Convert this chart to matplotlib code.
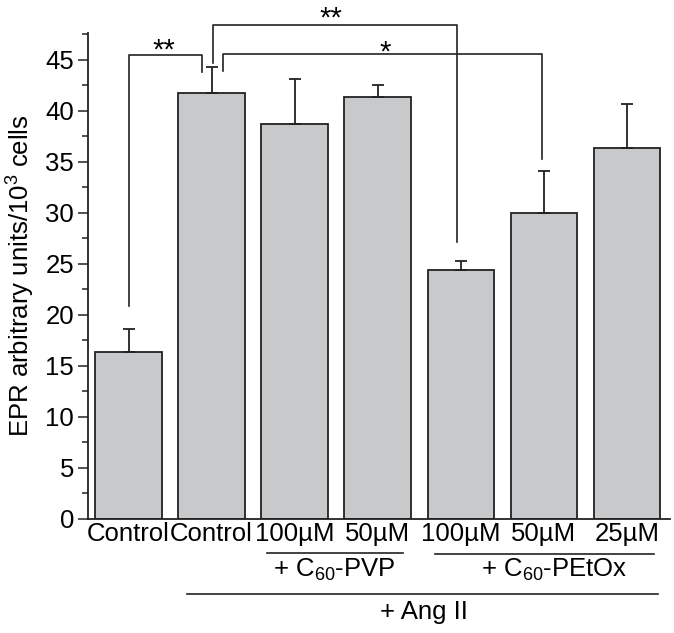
import matplotlib
matplotlib.use("Agg")
import matplotlib.pyplot as plt
import numpy as np

plt.rcParams['font.family'] = ['Liberation Sans', 'DejaVu Sans']
plt.rcParams['mathtext.fontset'] = 'custom'
plt.rcParams['mathtext.rm'] = 'Liberation Sans'
plt.rcParams['mathtext.it'] = 'Liberation Sans:italic'
plt.rcParams['mathtext.bf'] = 'Liberation Sans:bold'

# ---- data ----
categories = ["Control", "Control", "100\u00b5M", "50\u00b5M", "100\u00b5M", "50\u00b5M", "25\u00b5M"]
values = [16.4, 41.7, 38.7, 41.3, 24.4, 30.0, 36.3]
errors = [2.2, 2.6, 4.4, 1.2, 0.9, 4.1, 4.3]
yticks = [0, 5, 10, 15, 20, 25, 30, 35, 40, 45]
ylabel = "EPR arbitrary units/10$^3$ cells"
group_labels = ["+ C$_{60}$-PVP", "+ C$_{60}$-PEtOx", "+ Ang II"]
sig_labels = ["**", "**", "*"]

W, H = 674, 633
fig = plt.figure(figsize=(W / 100, H / 100), dpi=100)
ax = fig.add_axes([88 / W, 1 - 519 / H, (670 - 88) / W, (519 - 33) / H])

x = np.arange(len(values))
ax.bar(x, values, width=0.8, color="#c8c9cb", edgecolor="#222222", linewidth=1.3, zorder=2)
ax.errorbar(x, values, yerr=[np.zeros(len(errors)), errors], fmt="none",
            ecolor="#222222", elinewidth=1.3, capsize=4, capthick=1.3, zorder=3)

ax.set_xlim(-0.488, 6.52)
ax.set_ylim(0, 47.6)
ax.set_yticks(yticks)
ax.set_yticks(np.arange(2.5, 47.6, 5), minor=True)
ax.tick_params(axis="y", which="major", length=7, width=1.1, direction="out", labelsize=18.5, pad=3, color="#222222")
ax.tick_params(axis="y", which="minor", length=4, width=1.1, direction="out", color="#222222")
ax.set_xticks(x)
ax.set_xticklabels(categories, fontsize=18.5)
ax.tick_params(axis="x", length=0, pad=2)
for s in ["top", "right"]:
    ax.spines[s].set_visible(False)
for s in ["left", "bottom"]:
    ax.spines[s].set_linewidth(1.3)
    ax.spines[s].set_color("#222222")
ax.set_ylabel(ylabel, fontsize=18.5, labelpad=6)

lc = "#222222"
lw = 1.2
# significance brackets
ax.plot([0.0, 0.0, 0.89, 0.89], [20.9, 45.45, 45.45, 43.75], color=lc, lw=lw, clip_on=False)
ax.plot([1.02, 1.02, 3.95, 3.95], [44.7, 48.4, 48.4, 27.1], color=lc, lw=lw, clip_on=False)
ax.plot([1.14, 1.14, 4.98, 4.98], [43.85, 45.55, 45.55, 35.3], color=lc, lw=lw, clip_on=False)
ax.text(0.42, 45.1, sig_labels[0], ha="center", va="baseline", fontsize=21, clip_on=False)
ax.text(2.44, 48.25, sig_labels[1], ha="center", va="baseline", fontsize=21, clip_on=False)
ax.text(3.09, 44.9, sig_labels[2], ha="center", va="baseline", fontsize=21, clip_on=False)

# group lines and labels
tr = ax.get_xaxis_transform()
ax.plot([1.67, 3.30], [-0.070, -0.070], transform=tr, color=lc, lw=lw, clip_on=False)
ax.plot([3.69, 6.33], [-0.072, -0.072], transform=tr, color=lc, lw=lw, clip_on=False)
ax.plot([0.70, 6.38], [-0.154, -0.154], transform=tr, color=lc, lw=lw, clip_on=False)
ax.text(2.48, -0.105, group_labels[0], transform=tr, ha="center", va="center", fontsize=18.5)
ax.text(5.13, -0.105, group_labels[1], transform=tr, ha="center", va="center", fontsize=18.5)
ax.text(3.56, -0.191, group_labels[2], transform=tr, ha="center", va="center", fontsize=18.5)

fig.savefig("out.png", dpi=100)
